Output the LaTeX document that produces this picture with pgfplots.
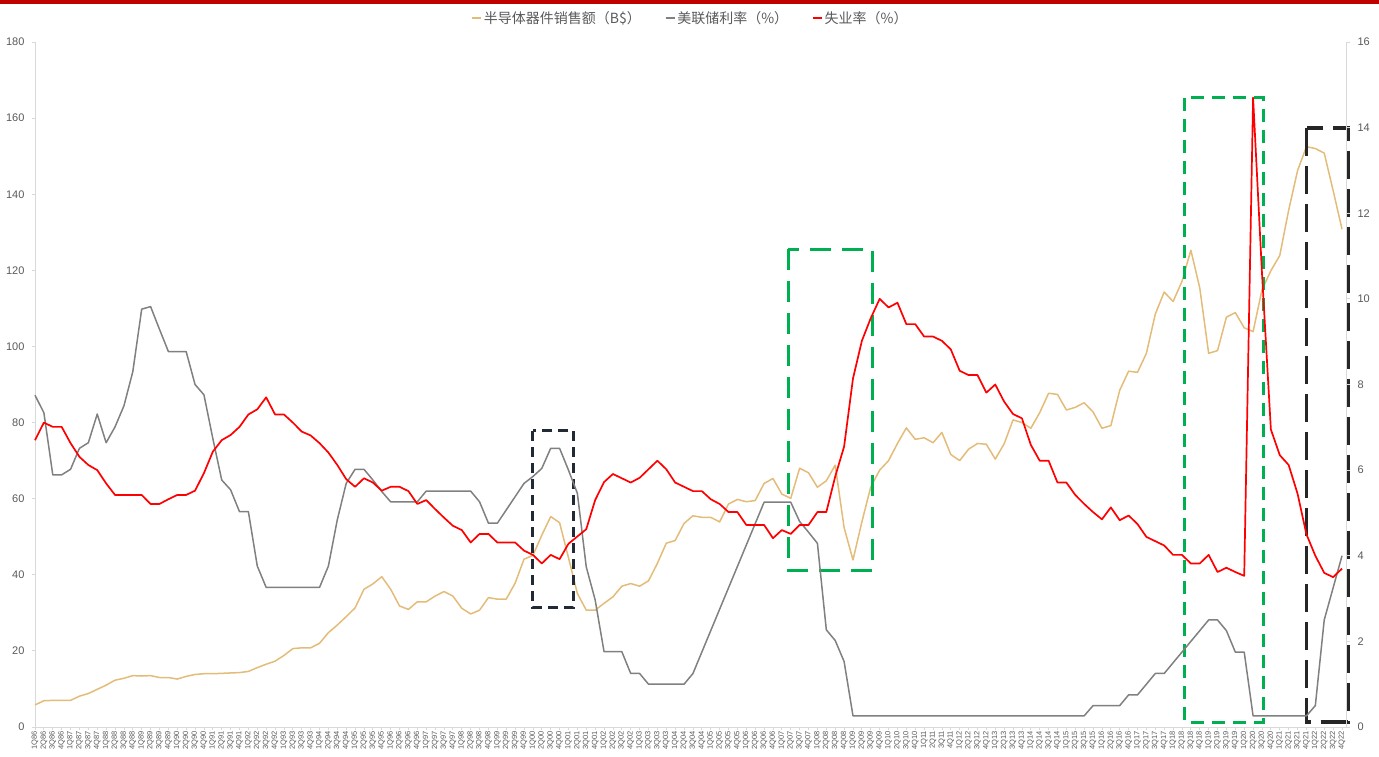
\documentclass[border=0pt]{standalone}
\usepackage{pgfplots}
\pgfplotsset{compat=1.18}
\usepackage{pgfplotstable}
\usepackage{fontspec}
\setmainfont{Liberation Sans}
\newfontfamily\cjk{Noto Sans CJK SC}
\definecolor{semi}{HTML}{E3BC7A}
\definecolor{fed}{HTML}{808080}
\definecolor{unemp}{HTML}{FF0000}
\definecolor{axisgray}{HTML}{D9D9D9}
\definecolor{labelgray}{HTML}{595959}
\definecolor{boxgreen}{HTML}{00B050}
\definecolor{boxdark}{HTML}{222A35}
\definecolor{boxblack}{HTML}{262626}
\definecolor{topred}{HTML}{C00000}

\pgfplotstableread{
i s f u
0 5.8 7.75 6.70
1 6.9 7.34 7.11
2 7.0 5.89 7.01
3 7.0 5.89 7.01
4 7.0 6.02 6.63
5 8.1 6.51 6.31
6 8.8 6.64 6.12
7 9.9 7.31 6.00
8 11.0 6.64 5.69
9 12.3 7.01 5.42
10 12.8 7.50 5.42
11 13.5 8.30 5.42
12 13.4 9.76 5.42
13 13.5 9.82 5.21
14 13.0 9.29 5.21
15 13.0 8.77 5.32
16 12.6 8.77 5.42
17 13.3 8.77 5.42
18 13.8 8.00 5.52
19 14.0 7.76 5.93
20 14.0 6.74 6.43
21 14.1 5.77 6.70
22 14.2 5.54 6.82
23 14.3 5.03 7.01
24 14.6 5.03 7.30
25 15.6 3.76 7.42
26 16.5 3.26 7.70
27 17.3 3.26 7.30
28 18.8 3.26 7.30
29 20.6 3.26 7.11
30 20.8 3.26 6.90
31 20.8 3.26 6.81
32 22.0 3.26 6.63
33 24.8 3.76 6.41
34 26.8 4.84 6.12
35 29.0 5.69 5.79
36 31.3 6.02 5.61
37 36.2 6.02 5.81
38 37.6 5.77 5.71
39 39.5 5.50 5.52
40 36.2 5.26 5.61
41 31.8 5.26 5.61
42 30.9 5.26 5.51
43 32.9 5.26 5.21
44 32.9 5.51 5.30
45 34.4 5.51 5.09
46 35.6 5.51 4.89
47 34.4 5.51 4.70
48 31.2 5.51 4.60
49 29.7 5.51 4.31
50 30.7 5.26 4.51
51 34.0 4.76 4.51
52 33.6 4.76 4.31
53 33.6 5.07 4.31
54 37.8 5.38 4.31
55 44.1 5.69 4.12
56 45.1 5.85 4.02
57 50.4 6.04 3.82
58 55.3 6.51 4.02
59 53.7 6.51 3.92
60 44.5 6.00 4.28
61 35.1 5.46 4.45
62 30.7 3.74 4.62
63 30.7 2.97 5.30
64 32.5 1.76 5.72
65 34.2 1.76 5.91
66 37.0 1.76 5.81
67 37.7 1.25 5.71
68 37.0 1.25 5.82
69 38.4 1.00 6.02
70 43.0 1.00 6.22
71 48.3 1.00 6.02
72 49.0 1.00 5.71
73 53.5 1.00 5.61
74 55.5 1.25 5.51
75 55.1 1.75 5.51
76 55.1 2.25 5.32
77 53.9 2.75 5.21
78 58.6 3.25 5.02
79 59.8 3.75 5.02
80 59.2 4.25 4.72
81 59.5 4.75 4.72
82 64.0 5.25 4.72
83 65.3 5.25 4.41
84 61.2 5.25 4.60
85 60.1 5.25 4.51
86 68.0 4.80 4.72
87 66.8 4.55 4.72
88 63.0 4.29 5.02
89 64.7 2.27 5.02
90 68.8 2.02 5.85
91 52.4 1.53 6.55
92 43.9 0.26 8.14
93 53.9 0.26 9.02
94 63.1 0.26 9.55
95 67.5 0.26 10.00
96 70.0 0.26 9.80
97 74.5 0.26 9.91
98 78.6 0.26 9.41
99 75.6 0.26 9.41
100 76.0 0.26 9.12
101 74.7 0.26 9.12
102 77.4 0.26 9.02
103 71.6 0.26 8.82
104 70.0 0.26 8.32
105 73.0 0.26 8.22
106 74.5 0.26 8.22
107 74.3 0.26 7.81
108 70.4 0.26 8.00
109 74.4 0.26 7.60
110 80.7 0.26 7.31
111 80.0 0.26 7.21
112 78.5 0.26 6.59
113 82.6 0.26 6.22
114 87.7 0.26 6.22
115 87.4 0.26 5.71
116 83.3 0.26 5.71
117 84.0 0.26 5.42
118 85.2 0.26 5.21
119 82.8 0.50 5.02
120 78.5 0.50 4.85
121 79.2 0.50 5.13
122 88.5 0.50 4.83
123 93.5 0.75 4.94
124 93.2 0.75 4.74
125 98.2 1.00 4.44
126 108.5 1.25 4.34
127 114.3 1.25 4.24
128 111.8 1.50 4.02
129 117.1 1.75 4.02
130 125.3 2.00 3.82
131 115.4 2.25 3.82
132 98.2 2.50 4.02
133 98.9 2.50 3.62
134 107.7 2.25 3.72
135 108.9 1.75 3.62
136 104.9 1.75 3.53
137 103.9 0.26 14.70
138 114.9 0.26 10.60
139 119.9 0.26 6.95
140 123.9 0.26 6.35
141 135.8 0.26 6.12
142 146.2 0.26 5.45
143 152.5 0.26 4.50
144 152.0 0.50 4.00
145 150.8 2.50 3.60
146 141.0 3.25 3.50
147 130.8 4.00 3.70
}\data

\pgfplotsset{
  common/.style={
    at={(35pt,29pt)}, anchor=south west, scale only axis,
    width=1311pt, height=685pt,
    xmin=0, xmax=147.45,
    axis line style={-, axisgray, line width=1pt},
    tick style={axisgray, line width=0.8pt},
    major tick length=4pt,
    tick align=outside,
    clip=false,
    /pgf/number format/assume math mode=true,
    y tick label style={font=\fontsize{11}{12}\selectfont, color=labelgray},
    scaled y ticks=false,
  }
}

\begin{document}
\begin{tikzpicture}[x=1pt,y=1pt]
\useasboundingbox (0,0) rectangle (1379,756);
\fill[topred] (0,752) rectangle (1379,756);

\begin{axis}[common,
  ymin=0, ymax=180,
  axis y line*=left, axis x line*=bottom,
  ytick={0,20,...,180},
  yticklabel style={xshift=-4pt},
  xtick={0,...,147},
  major tick length=3pt,
  xticklabels={1Q86,2Q86,3Q86,4Q86,1Q87,2Q87,3Q87,4Q87,1Q88,2Q88,3Q88,4Q88,1Q89,2Q89,3Q89,4Q89,1Q90,2Q90,3Q90,4Q90,1Q91,2Q91,3Q91,4Q91,1Q92,2Q92,3Q92,4Q92,1Q93,2Q93,3Q93,4Q93,1Q94,2Q94,3Q94,4Q94,1Q95,2Q95,3Q95,4Q95,1Q96,2Q96,3Q96,4Q96,1Q97,2Q97,3Q97,4Q97,1Q98,2Q98,3Q98,4Q98,1Q99,2Q99,3Q99,4Q99,1Q00,2Q00,3Q00,4Q00,1Q01,2Q01,3Q01,4Q01,1Q02,2Q02,3Q02,4Q02,1Q03,2Q03,3Q03,4Q03,1Q04,2Q04,3Q04,4Q04,1Q05,2Q05,3Q05,4Q05,1Q06,2Q06,3Q06,4Q06,1Q07,2Q07,3Q07,4Q07,1Q08,2Q08,3Q08,4Q08,1Q09,2Q09,3Q09,4Q09,1Q10,2Q10,3Q10,4Q10,1Q11,2Q11,3Q11,4Q11,1Q12,2Q12,3Q12,4Q12,1Q13,2Q13,3Q13,4Q13,1Q14,2Q14,3Q14,4Q14,1Q15,2Q15,3Q15,4Q15,1Q16,2Q16,3Q16,4Q16,1Q17,2Q17,3Q17,4Q17,1Q18,2Q18,3Q18,4Q18,1Q19,2Q19,3Q19,4Q19,1Q20,2Q20,3Q20,4Q20,1Q21,2Q21,3Q21,4Q21,1Q22,2Q22,3Q22,4Q22},
  x tick label style={rotate=90, anchor=east, font=\fontsize{7.5}{8}\selectfont, color=labelgray, inner sep=1pt},
]
\addplot[semi, line width=1.5pt, line join=round] table[x=i, y=s] {\data};
% annotation boxes
\draw[boxdark, line width=3pt, dash pattern=on 10pt off 6pt] (axis cs:55.98,77.85) rectangle (axis cs:60.62,31.45);
\draw[boxgreen, line width=2.8pt, dash pattern=on 21pt off 11pt] (axis cs:84.73,125.5) rectangle (axis cs:94.17,41.07);
\draw[boxgreen, line width=3pt, dash pattern=on 13pt off 8pt] (axis cs:129.34,165.3) rectangle (axis cs:138.15,1.3);
\draw[boxblack, line width=3.5pt, dash pattern=on 28pt off 10pt] (axis cs:143.03,157.4) rectangle (axis cs:147.68,1.3);
\end{axis}

\begin{axis}[common,
  ymin=0, ymax=16,
  axis y line*=right, axis x line=none,
  ytick={0,2,...,16},
  yticklabel style={xshift=4pt},
  legend style={draw=none, fill=none, at={(0.5,1.035)}, anchor=center,
    font=\cjk\fontsize{14}{16}\selectfont, text=labelgray,
    /tikz/every even column/.append style={column sep=22pt},
    inner sep=0pt},
  legend columns=3,
  legend image code/.code={\draw[#1, line width=1.5pt] (0pt,0pt) -- (9pt,0pt);},
]
\addlegendimage{semi}
\addlegendentry{半导体器件销售额（B\$）}
\addplot[fed, line width=1.5pt, line join=round] table[x=i, y=f] {\data};
\addlegendentry{美联储利率（\%）}
\addplot[unemp, line width=1.7pt, line join=round] table[x=i, y=u] {\data};
\addlegendentry{失业率（\%）}
\end{axis}
\end{tikzpicture}
\end{document}
